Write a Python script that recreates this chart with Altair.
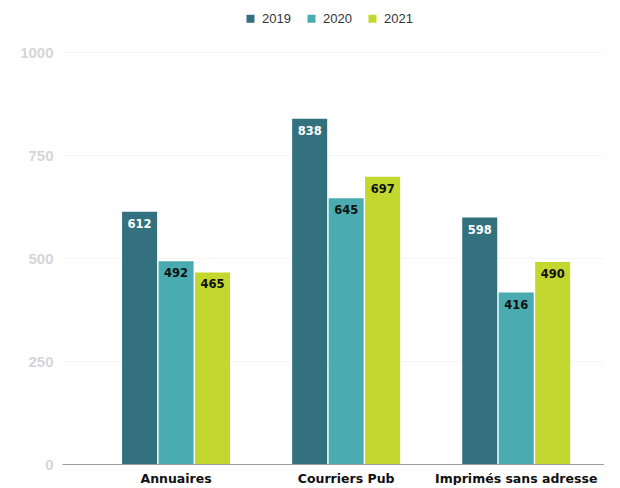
import altair as alt
import pandas as pd

categories = ["Annuaires", "Courriers Pub", "Imprimés sans adresse"]
years = ["2019", "2020", "2021"]
values_2019 = [612, 838, 598]
values_2020 = [492, 645, 416]
values_2021 = [465, 697, 490]
colors = ["#33717f", "#4aabb0", "#c3d82f"]
label_colors = ["#ffffff", "#111111", "#111111"]

rows = []
for yi, (yr, vals) in enumerate(zip(years, [values_2019, values_2020, values_2021])):
    for c, v in zip(categories, vals):
        rows.append({"cat": c, "year": yr, "value": v, "lc": label_colors[yi]})
df = pd.DataFrame(rows)

x = alt.X("cat:N", sort=categories, title=None,
          scale=alt.Scale(paddingInner=0.365, paddingOuter=0.276, align=0.64),
          axis=alt.Axis(labelAngle=0, labelFont="DejaVu Sans", labelFontWeight="bold",
                        labelFontSize=12.5, labelColor="#111111", labelPadding=8,
                        ticks=False, domainColor="#9e9e9e", grid=False))
xo = alt.XOffset("year:N", sort=years, scale=alt.Scale(paddingInner=0.04))
y = alt.Y("value:Q", title=None,
          scale=alt.Scale(domain=[0, 1000]),
          axis=alt.Axis(values=[0, 250, 500, 750, 1000], format="d", labelFont="Liberation Sans",
                        labelFontWeight="bold", labelFontSize=15, labelColor="#d6d6d6",
                        labelPadding=9, ticks=False, domain=False, grid=True,
                        gridColor="#f6f6f6"))

bars = alt.Chart(df).mark_bar().encode(
    x=x, xOffset=xo, y=y,
    color=alt.Color("year:N", sort=years, scale=alt.Scale(domain=years, range=colors),
                    legend=alt.Legend(title=None, orient="none", direction="horizontal",
                                      legendX=182, legendY=-40, symbolType="square",
                                      symbolSize=64, symbolStrokeWidth=0,
                                      labelFont="Liberation Sans", labelFontSize=13,
                                      labelColor="#333333", columnPadding=14,
                                      labelOffset=5)),
)

text = alt.Chart(df).mark_text(baseline="middle", dy=13, font="DejaVu Sans",
                               fontWeight="bold", fontSize=11.5).encode(
    x=alt.X("cat:N", sort=categories), xOffset=alt.XOffset("year:N", sort=years),
    y=alt.Y("value:Q"), text=alt.Text("value:Q"),
    color=alt.Color("lc:N", scale=None),
)

chart = alt.layer(bars, text).properties(
    width=542, height=412,
    padding={"top": 4, "left": 11, "right": 0, "bottom": 0},
).configure_view(stroke=None)

chart.save("out.html", embed_options={"renderer": "svg", "actions": False})
